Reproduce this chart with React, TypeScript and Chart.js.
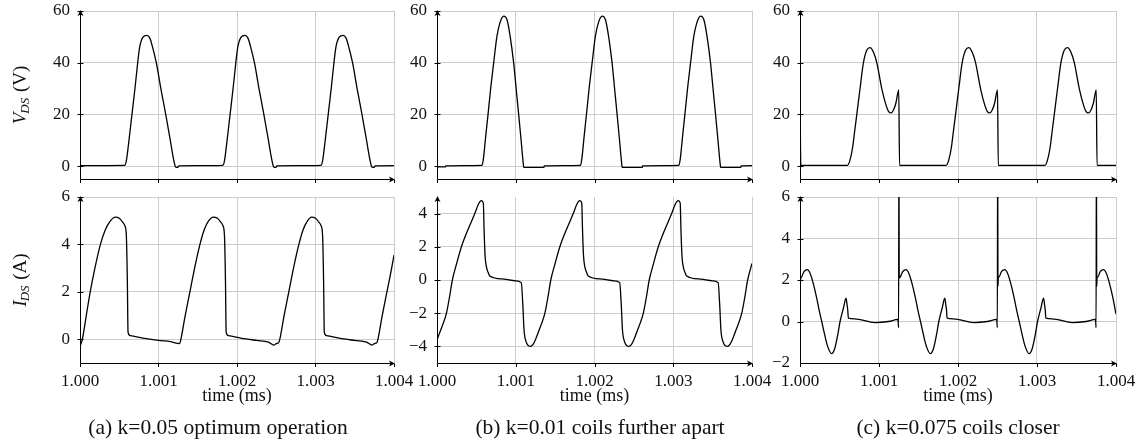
import React, { useEffect, useRef } from 'react';
import { Chart, registerables } from 'chart.js';

Chart.register(...registerables);
const SERIF = '"Liberation Serif", "Times New Roman", "DejaVu Serif", serif';
Chart.defaults.font.family = SERIF;

type Pt = [number, number];

// ---------- axis ticks & labels ----------
const xTickValues = [1.0, 1.001, 1.002, 1.003, 1.004];
const xTickLabels = ['1.000', '1.001', '1.002', '1.003', '1.004'];
const xTitle = 'time (ms)';
const vdsTicks = [0, 20, 40, 60];
const idsTicksA = [0, 2, 4, 6];
const idsTicksB = [-4, -2, 0, 2, 4];
const idsTicksC = [-2, 0, 2, 4, 6];
const captions = ['(a) k=0.05 optimum operation', '(b) k=0.01 coils further apart', '(c) k=0.075 coils closer'];

// ---------- series: [time (ms), value] ----------
const vdsA: Pt[] = [
  [1.0, 0.2], [1.00057, 0.3], [1.00059, 2], [1.00062, 9], [1.000662, 20], [1.0007, 30], [1.000735, 40],
  [1.00076, 46], [1.0008, 49.8], [1.00085, 50.6], [1.00089, 49.5], [1.00092, 46.5], [1.000972, 40],
  [1.00103, 30], [1.001092, 20], [1.00115, 10], [1.00119, 3], [1.001212, 0], [1.001225, -0.5],
  [1.001245, -0.5], [1.00126, 0.1],
  [1.00182, 0.3], [1.00184, 2], [1.00187, 9], [1.001912, 20], [1.00195, 30], [1.001985, 40],
  [1.00201, 46], [1.00205, 49.8], [1.0021, 50.6], [1.00214, 49.5], [1.00217, 46.5], [1.002222, 40],
  [1.00228, 30], [1.002342, 20], [1.0024, 10], [1.00244, 3], [1.002462, 0], [1.002475, -0.5],
  [1.002495, -0.5], [1.00251, 0.1],
  [1.00307, 0.3], [1.00309, 2], [1.00312, 9], [1.003162, 20], [1.0032, 30], [1.003235, 40],
  [1.00326, 46], [1.0033, 49.8], [1.00335, 50.6], [1.00339, 49.5], [1.00342, 46.5], [1.003472, 40],
  [1.00353, 30], [1.003592, 20], [1.00365, 10], [1.00369, 3], [1.003712, 0], [1.003725, -0.5],
  [1.003745, -0.5], [1.00376, 0.1], [1.004, 0.2],
];

const vdsB: Pt[] = [
  [1.0, -0.3], [1.000108, -0.3], [1.000112, 0.1], [1.000572, 0.3], [1.00059, 3], [1.00062, 12],
  [1.000648, 20], [1.000685, 31], [1.00072, 40], [1.00076, 50], [1.0008, 55.5], [1.000847, 58],
  [1.00089, 56.5], [1.00093, 50], [1.000973, 40], [1.001005, 30], [1.001037, 20], [1.001068, 10],
  [1.001092, 2], [1.001102, -0.5], [1.001358, -0.5], [1.001362, 0.1],
  [1.001822, 0.3], [1.00184, 3], [1.00187, 12], [1.001898, 20], [1.001935, 31], [1.00197, 40],
  [1.00201, 50], [1.00205, 55.5], [1.002097, 58], [1.00214, 56.5], [1.00218, 50], [1.002223, 40],
  [1.002255, 30], [1.002287, 20], [1.002318, 10], [1.002342, 2], [1.002352, -0.5], [1.002608, -0.5],
  [1.002612, 0.1],
  [1.003072, 0.3], [1.00309, 3], [1.00312, 12], [1.003148, 20], [1.003185, 31], [1.00322, 40],
  [1.00326, 50], [1.0033, 55.5], [1.003347, 58], [1.00339, 56.5], [1.00343, 50], [1.003473, 40],
  [1.003505, 30], [1.003537, 20], [1.003568, 10], [1.003592, 2], [1.003602, -0.5], [1.003858, -0.5],
  [1.003862, 0.1], [1.004, 0.2],
];

const vdsC: Pt[] = [
  [1.0, 29.5], [1.00001, 0.3], [1.0006, 0.3], [1.00063, 2], [1.000665, 7], [1.00069, 13], [1.000719, 20],
  [1.00076, 30], [1.000803, 40], [1.000845, 44.8], [1.000887, 45.8], [1.00093, 44], [1.000972, 40],
  [1.001035, 30], [1.00109, 23.5], [1.00112, 21.2], [1.001153, 20.6], [1.001185, 21.8], [1.001215, 24.5],
  [1.00125, 29.5], [1.00126, 0.3],
  [1.00185, 0.3], [1.00188, 2], [1.001915, 7], [1.00194, 13], [1.001969, 20], [1.00201, 30],
  [1.002053, 40], [1.002095, 44.8], [1.002137, 45.8], [1.00218, 44], [1.002222, 40], [1.002285, 30],
  [1.00234, 23.5], [1.00237, 21.2], [1.002403, 20.6], [1.002435, 21.8], [1.002465, 24.5], [1.0025, 29.5],
  [1.00251, 0.3],
  [1.0031, 0.3], [1.00313, 2], [1.003165, 7], [1.00319, 13], [1.003219, 20], [1.00326, 30],
  [1.003303, 40], [1.003345, 44.8], [1.003387, 45.8], [1.00343, 44], [1.003472, 40], [1.003535, 30],
  [1.00359, 23.5], [1.00362, 21.2], [1.003653, 20.6], [1.003685, 21.8], [1.003715, 24.5], [1.00375, 29.5],
  [1.00376, 0.3], [1.004, 0.3],
];

const idsA: Pt[] = [
  [1.0, -0.3], [1.00003, 0], [1.00008, 1.0], [1.00013, 2.0], [1.00019, 3.0], [1.00026, 4.0],
  [1.00032, 4.6], [1.00039, 5.0], [1.00045, 5.15], [1.0005, 5.1], [1.00054, 4.95], [1.00057, 4.8],
  [1.00059, 4.4], [1.000603, 2.5], [1.000612, 0.3], [1.00064, 0.15], [1.0008, 0.05], [1.001, -0.05],
  [1.00115, -0.1], [1.00127, -0.18],
  [1.001285, 0], [1.00134, 1.0], [1.0014, 2.0], [1.00146, 3.0], [1.001528, 4.0], [1.00158, 4.6],
  [1.00164, 5.0], [1.0017, 5.15], [1.00175, 5.1], [1.00179, 4.95], [1.00182, 4.8], [1.00184, 4.4],
  [1.001853, 2.5], [1.001862, 0.3], [1.00189, 0.15], [1.00205, 0.05], [1.00225, -0.05], [1.0024, -0.12],
  [1.00247, -0.25], [1.0025, -0.18], [1.00253, -0.15],
  [1.002545, 0], [1.0026, 1.0], [1.00266, 2.0], [1.00272, 3.0], [1.002788, 4.0], [1.00284, 4.6],
  [1.0029, 5.0], [1.00295, 5.15], [1.003, 5.1], [1.00304, 4.95], [1.00307, 4.8], [1.00309, 4.4],
  [1.003103, 2.5], [1.003112, 0.3], [1.00314, 0.15], [1.0033, 0.05], [1.0035, -0.05], [1.00365, -0.12],
  [1.00372, -0.25], [1.00375, -0.18], [1.00378, -0.15],
  [1.003795, 0], [1.00385, 1.0], [1.00391, 2.0], [1.00397, 3.0], [1.004, 3.55],
];

const idsB: Pt[] = [
  [1.0, -3.6], [1.00004, -3.1], [1.00008, -2.6], [1.00012, -2.0], [1.00016, -1.0], [1.000195, 0],
  [1.00025, 1.0], [1.00031, 2.0], [1.00039, 3.0], [1.00048, 4.0], [1.00052, 4.5], [1.000545, 4.72],
  [1.000565, 4.78], [1.000588, 4.65], [1.000598, 3.0], [1.00061, 1.5], [1.000627, 0.8], [1.00065, 0.45],
  [1.00067, 0.24], [1.00085, 0.05], [1.001, -0.05], [1.00107, -0.16], [1.00109, -1.5], [1.001105, -3.0],
  [1.00113, -3.7], [1.00116, -3.95], [1.001186, -4.0], [1.00122, -3.88], [1.00125, -3.6],
  [1.00129, -3.1], [1.00133, -2.6], [1.00137, -2.0], [1.00141, -1.0], [1.001445, 0], [1.0015, 1.0],
  [1.00156, 2.0], [1.00164, 3.0], [1.00173, 4.0], [1.00177, 4.5], [1.001795, 4.72], [1.001815, 4.78],
  [1.001838, 4.65], [1.001848, 3.0], [1.00186, 1.5], [1.001877, 0.8], [1.0019, 0.45], [1.00192, 0.24],
  [1.0021, 0.05], [1.00225, -0.05], [1.00232, -0.16], [1.00234, -1.5], [1.002355, -3.0],
  [1.00238, -3.7], [1.00241, -3.95], [1.002436, -4.0], [1.00247, -3.88], [1.0025, -3.6],
  [1.00254, -3.1], [1.00258, -2.6], [1.00262, -2.0], [1.00266, -1.0], [1.002695, 0], [1.00275, 1.0],
  [1.00281, 2.0], [1.00289, 3.0], [1.00298, 4.0], [1.00302, 4.5], [1.003045, 4.72], [1.003065, 4.78],
  [1.003088, 4.65], [1.003098, 3.0], [1.00311, 1.5], [1.003127, 0.8], [1.00315, 0.45], [1.00317, 0.24],
  [1.00335, 0.05], [1.0035, -0.05], [1.00357, -0.16], [1.00359, -1.5], [1.003605, -3.0],
  [1.00363, -3.7], [1.00366, -3.95], [1.003686, -4.0], [1.00372, -3.88], [1.00375, -3.6],
  [1.00379, -3.1], [1.00383, -2.6], [1.00387, -2.0], [1.00391, -1.0], [1.003945, 0], [1.004, 1.0],
];

const idsC: Pt[] = [
  [1.0, -0.2], [1.000004, 1.9], [1.00002, 2.15], [1.00005, 2.4], [1.000093, 2.5], [1.00013, 2.3],
  [1.00017, 1.8], [1.00021, 1.15], [1.000245, 0.5], [1.000275, 0], [1.00031, -0.6], [1.00035, -1.2],
  [1.0004, -1.55], [1.00044, -1.3], [1.00048, -0.6], [1.000507, 0], [1.00055, 0.65], [1.000583, 1.12],
  [1.000597, 0.77], [1.000605, 0.53], [1.000612, 0.16], [1.00069, 0.13], [1.00095, -0.05], [1.00112, 0],
  [1.00124, 0.1], [1.001248, -0.3], [1.001252, 9], [1.001256, 2.1],
  [1.00127, 2.15], [1.0013, 2.4], [1.001343, 2.5], [1.00138, 2.3], [1.00142, 1.8], [1.00146, 1.15],
  [1.001495, 0.5], [1.001525, 0], [1.00156, -0.6], [1.0016, -1.2], [1.00165, -1.55], [1.00169, -1.3],
  [1.00173, -0.6], [1.001757, 0], [1.0018, 0.65], [1.001833, 1.12], [1.001847, 0.77], [1.001855, 0.53],
  [1.001862, 0.16], [1.00194, 0.13], [1.0022, -0.05], [1.00237, 0], [1.00249, 0.1], [1.002498, -0.3],
  [1.002502, 9], [1.002506, 1.7], [1.00251, 2.1],
  [1.00252, 2.15], [1.00255, 2.4], [1.002593, 2.5], [1.00263, 2.3], [1.00267, 1.8], [1.00271, 1.15],
  [1.002745, 0.5], [1.002775, 0], [1.00281, -0.6], [1.00285, -1.2], [1.0029, -1.55], [1.00294, -1.3],
  [1.00298, -0.6], [1.003007, 0], [1.00305, 0.65], [1.003083, 1.12], [1.003097, 0.77], [1.003105, 0.53],
  [1.003112, 0.16], [1.00319, 0.13], [1.00345, -0.05], [1.00362, 0], [1.00374, 0.1], [1.003748, -0.3],
  [1.003752, 9], [1.003756, 1.7], [1.00376, 2.1],
  [1.00377, 2.15], [1.0038, 2.4], [1.003843, 2.5], [1.00388, 2.3], [1.00392, 1.8], [1.00396, 1.15],
  [1.004, 0.35],
];

// ---------- pgfplots-like axes plugin ----------
const axesPlugin = {
  id: 'pgfAxes',
  afterDatasetsDraw(chart: any, _args: any, opts: any) {
    const { ctx, chartArea } = chart;
    const { left, right, top, bottom } = chartArea;
    const L = Math.round(left) + 0.5;
    const B = Math.round(bottom) + 0.5;
    ctx.save();
    ctx.strokeStyle = '#000';
    ctx.fillStyle = '#000';
    ctx.lineWidth = 1;
    // y axis with arrow
    ctx.beginPath();
    ctx.moveTo(L, B);
    ctx.lineTo(L, top + 3);
    ctx.stroke();
    ctx.beginPath();
    ctx.moveTo(L, top - 1);
    ctx.lineTo(L - 3, top + 5);
    ctx.lineTo(L, top + 3.5);
    ctx.lineTo(L + 3, top + 5);
    ctx.closePath();
    ctx.fill();
    // x axis with arrow
    ctx.beginPath();
    ctx.moveTo(L, B);
    ctx.lineTo(right - 3, B);
    ctx.stroke();
    ctx.beginPath();
    ctx.moveTo(right + 1, B);
    ctx.lineTo(right - 5, B - 3);
    ctx.lineTo(right - 3.5, B);
    ctx.lineTo(right - 5, B + 3);
    ctx.closePath();
    ctx.fill();
    // tick marks
    const ys = chart.scales.y;
    ys.ticks.forEach((t: any) => {
      const py = Math.round(ys.getPixelForValue(t.value)) + 0.5;
      if (Math.abs(py - B) < 2) return;
      ctx.beginPath();
      ctx.moveTo(L - 3, py);
      ctx.lineTo(L + 3, py);
      ctx.stroke();
    });
    const xs = chart.scales.x;
    xs.ticks.forEach((t: any) => {
      const px = Math.round(xs.getPixelForValue(t.value)) + 0.5;
      ctx.beginPath();
      ctx.moveTo(px, B);
      ctx.lineTo(px, B + 3.5);
      ctx.stroke();
    });
    // rotated y title with subscript
    const yt = opts && opts.yTitle;
    if (yt) {
      const cy = (top + bottom) / 2;
      ctx.translate(opts.titleX, cy);
      ctx.rotate(-Math.PI / 2);
      const fMain = 'italic 19px ' + SERIF;
      const fSub = 'italic 13px ' + SERIF;
      const fRest = '19px ' + SERIF;
      ctx.font = fMain;
      const w1 = ctx.measureText(yt[0]).width;
      ctx.font = fSub;
      const w2 = ctx.measureText(yt[1]).width;
      ctx.font = fRest;
      const w3 = ctx.measureText(yt[2]).width;
      const x0 = -(w1 + w2 + w3) / 2;
      ctx.fillStyle = '#111';
      ctx.textBaseline = 'alphabetic';
      ctx.textAlign = 'left';
      ctx.font = fMain;
      ctx.fillText(yt[0], x0, 6);
      ctx.font = fSub;
      ctx.fillText(yt[1], x0 + w1 - 1, 9);
      ctx.font = fRest;
      ctx.fillText(yt[2], x0 + w1 + w2, 6);
    }
    ctx.restore();
  },
};

const Y_AXIS_W = 75;
const PAD_TOP = 24;
const PAD_RIGHT = 32;

type PanelProps = {
  data: Pt[];
  areaLeft: number;
  areaTop: number;
  areaW: number;
  areaH: number;
  yMin: number;
  yMax: number;
  yTicks: number[];
  bottomRow: boolean;
  yTitle?: [string, string, string];
};

const fmt = (v: number) => (v < 0 ? '\u2212' + Math.abs(v) : String(v));

function Panel(p: PanelProps) {
  const ref = useRef<HTMLCanvasElement>(null);
  const xh = p.bottomRow ? 44 : 24;
  const W = p.areaW + Y_AXIS_W + PAD_RIGHT;
  const H = p.areaH + PAD_TOP + xh;
  useEffect(() => {
    const chart = new Chart(ref.current as HTMLCanvasElement, {
      type: 'line',
      data: {
        datasets: [
          {
            data: p.data.map(([x, y]) => ({ x, y })),
            borderColor: '#000',
            borderWidth: 1.3,
            pointRadius: 0,
            fill: false,
            cubicInterpolationMode: 'monotone',
          } as any,
        ],
      },
      options: {
        responsive: false,
        animation: false,
        events: [],
        layout: { padding: { left: 0, top: PAD_TOP, right: PAD_RIGHT, bottom: 0 } },
        plugins: {
          legend: { display: false },
          tooltip: { enabled: false },
          pgfAxes: { yTitle: p.yTitle, titleX: 20 - (p.areaLeft - Y_AXIS_W) },
        } as any,
        scales: {
          x: {
            type: 'linear',
            min: 1.0,
            max: 1.004,
            afterBuildTicks: (s: any) => {
              s.ticks = xTickValues.map((v) => ({ value: v }));
            },
            afterFit: (s: any) => {
              s.height = xh;
            },
            grid: { color: '#cccccc', lineWidth: 1, drawTicks: false },
            border: { display: false },
            ticks: {
              display: p.bottomRow,
              autoSkip: false,
              maxRotation: 0,
              padding: 8,
              color: '#111',
              font: { family: SERIF, size: 17 },
              callback: (_v: any, i: number) => xTickLabels[i],
            },
            title: {
              display: p.bottomRow,
              text: xTitle,
              color: '#111',
              font: { family: SERIF, size: 18 },
              padding: 0,
            },
          },
          y: {
            type: 'linear',
            min: p.yMin,
            max: p.yMax,
            afterBuildTicks: (s: any) => {
              s.ticks = p.yTicks.map((v) => ({ value: v }));
            },
            afterFit: (s: any) => {
              s.width = Y_AXIS_W;
            },
            grid: { color: '#cccccc', lineWidth: 1, drawTicks: false },
            border: { display: false },
            ticks: {
              padding: 10,
              color: '#111',
              font: { family: SERIF, size: 17 },
              callback: (v: any) => fmt(Number(v)),
            },
          },
        },
      } as any,
      plugins: [axesPlugin as any],
    });
    return () => chart.destroy();
  }, []);
  return (
    <canvas
      ref={ref}
      width={W}
      height={H}
      style={{ position: 'absolute', left: p.areaLeft - Y_AXIS_W, top: p.areaTop - PAD_TOP, width: W, height: H }}
    />
  );
}

const cols = [
  { left: 80, w: 314, capX: 218 },
  { left: 437, w: 315, capX: 600 },
  { left: 800, w: 316, capX: 958 },
];
const TOP_ROW = { top: 11, h: 168 };
const BOT_ROW = { top: 197, h: 166 };

export default function App() {
  return (
    <div style={{ position: 'absolute', left: 0, top: 0, width: 1142, height: 445, background: '#fff', overflow: 'hidden' }}>
      <Panel data={vdsA} areaLeft={cols[0].left} areaTop={TOP_ROW.top} areaW={cols[0].w} areaH={TOP_ROW.h}
        yMin={-5} yMax={60} yTicks={vdsTicks} bottomRow={false} yTitle={['V', 'DS', ' (V)']} />
      <Panel data={vdsB} areaLeft={cols[1].left} areaTop={TOP_ROW.top} areaW={cols[1].w} areaH={TOP_ROW.h}
        yMin={-5} yMax={60} yTicks={vdsTicks} bottomRow={false} />
      <Panel data={vdsC} areaLeft={cols[2].left} areaTop={TOP_ROW.top} areaW={cols[2].w} areaH={TOP_ROW.h}
        yMin={-5} yMax={60} yTicks={vdsTicks} bottomRow={false} />
      <Panel data={idsA} areaLeft={cols[0].left} areaTop={BOT_ROW.top} areaW={cols[0].w} areaH={BOT_ROW.h}
        yMin={-1} yMax={6} yTicks={idsTicksA} bottomRow={true} yTitle={['I', 'DS', ' (A)']} />
      <Panel data={idsB} areaLeft={cols[1].left} areaTop={BOT_ROW.top} areaW={cols[1].w} areaH={BOT_ROW.h}
        yMin={-5} yMax={5} yTicks={idsTicksB} bottomRow={true} />
      <Panel data={idsC} areaLeft={cols[2].left} areaTop={BOT_ROW.top} areaW={cols[2].w} areaH={BOT_ROW.h}
        yMin={-2} yMax={6} yTicks={idsTicksC} bottomRow={true} />
      {captions.map((c, i) => (
        <div
          key={i}
          style={{
            position: 'absolute',
            left: cols[i].capX - 200,
            width: 400,
            top: 414,
            lineHeight: '26px',
            textAlign: 'center',
            fontFamily: SERIF,
            fontSize: 21.5,
            color: '#111',
            whiteSpace: 'nowrap',
          }}
        >
          {c}
        </div>
      ))}
    </div>
  );
}
